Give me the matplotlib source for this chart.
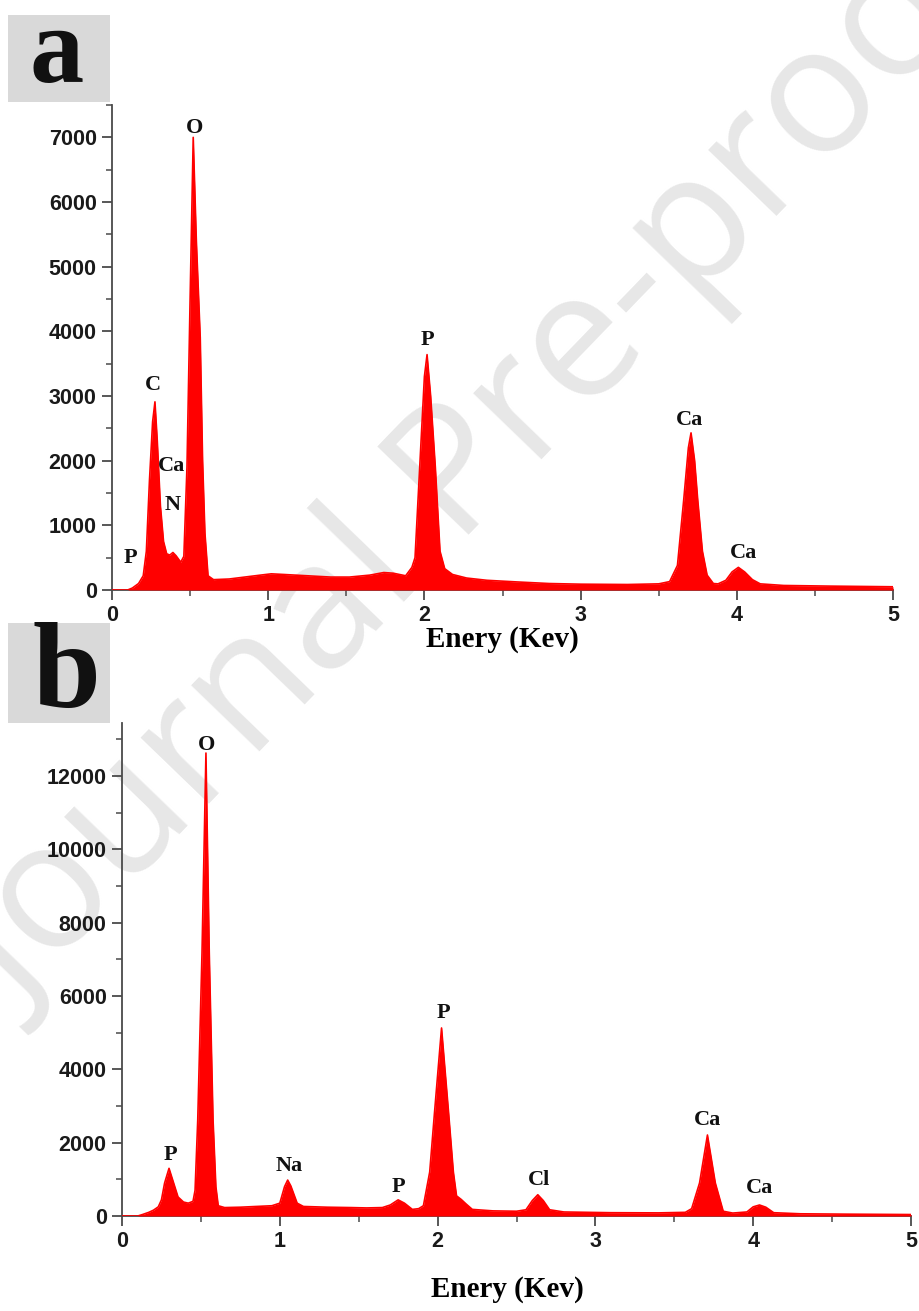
import matplotlib
matplotlib.use("Agg")
import matplotlib.pyplot as plt
from matplotlib.ticker import MultipleLocator
from matplotlib.patches import Rectangle

# ---------------- data ----------------
energy_a = [0.00, 0.10, 0.13, 0.17, 0.20, 0.22, 0.24, 0.26, 0.275, 0.29, 0.31, 0.33, 0.35, 0.37,
            0.39, 0.41, 0.44, 0.46, 0.48, 0.50, 0.52, 0.54, 0.565, 0.58, 0.595, 0.615, 0.65, 0.75,
            0.85, 0.95, 1.02, 1.10, 1.25, 1.40, 1.52, 1.65, 1.74, 1.80, 1.88, 1.92, 1.94, 1.97,
            2.00, 2.017, 2.04, 2.07, 2.10, 2.13, 2.18, 2.27, 2.40, 2.59, 2.80, 3.00, 3.30, 3.50,
            3.57, 3.62, 3.66, 3.69, 3.707, 3.73, 3.75, 3.78, 3.81, 3.85, 3.88, 3.93, 3.97, 4.01,
            4.05, 4.10, 4.15, 4.30, 4.60, 5.00]
counts_a = [0, 0, 30, 100, 220, 600, 1700, 2600, 2910, 2300, 1300, 750, 560, 540,
            580, 530, 430, 520, 1900, 4490, 7000, 5400, 3900, 2000, 880, 220, 160, 170,
            200, 230, 250, 240, 220, 200, 200, 230, 270, 260, 220, 350, 500, 1900,
            3300, 3640, 3000, 1900, 600, 330, 240, 185, 150, 125, 100, 90, 85, 95,
            130, 380, 1390, 2200, 2430, 2000, 1390, 600, 230, 100, 95, 150, 280, 350,
            280, 160, 95, 70, 60, 50]

energy_b = [0.00, 0.10, 0.13, 0.17, 0.20, 0.23, 0.25, 0.27, 0.298, 0.32, 0.355, 0.39, 0.42, 0.45,
            0.463, 0.48, 0.507, 0.532, 0.553, 0.577, 0.595, 0.61, 0.65, 0.75, 0.85, 0.95, 1.00,
            1.03, 1.05, 1.07, 1.11, 1.15, 1.30, 1.45, 1.55, 1.65, 1.70, 1.75, 1.79, 1.84, 1.88,
            1.91, 1.95, 1.98, 2.025, 2.07, 2.10, 2.12, 2.15, 2.18, 2.22, 2.35, 2.50, 2.56, 2.60,
            2.635, 2.67, 2.71, 2.80, 3.10, 3.40, 3.57, 3.61, 3.66, 3.71, 3.76, 3.81, 3.87, 3.96,
            4.00, 4.04, 4.08, 4.13, 4.30, 4.60, 5.00]
counts_b = [0, 0, 40, 100, 160, 250, 440, 900, 1300, 1000, 520, 380, 350, 400,
            700, 2620, 7180, 12630, 7180, 2620, 800, 280, 230, 240, 260, 280, 350,
            800, 980, 820, 350, 260, 240, 230, 220, 230, 300, 440, 350, 180, 200,
            280, 1200, 2800, 5130, 2800, 1200, 550, 450, 330, 180, 140, 130, 170, 420,
            580, 420, 170, 110, 90, 85, 100, 200, 900, 2210, 900, 130, 80, 110,
            250, 300, 240, 90, 60, 50, 40]

labels_a = ["O", "C", "Ca", "N", "P", "P", "Ca", "Ca"]
label_e_a = [0.53, 0.262, 0.384, 0.39, 0.115, 2.02, 3.70, 4.04]
label_c_a = [7150, 3170, 1920, 1320, 500, 3870, 2630, 570]

labels_b = ["O", "P", "Na", "P", "P", "Cl", "Ca", "Ca"]
label_e_b = [0.539, 0.304, 1.06, 1.75, 2.034, 2.64, 3.71, 4.04]
label_c_b = [12850, 1660, 1360, 790, 5540, 980, 2620, 760]

x_ticks = [0, 1, 2, 3, 4, 5]
xlabel_text = "Enery (Kev)"

# ---------------- figure ----------------
W, H = 920, 1311
fig = plt.figure(figsize=(W / 100, H / 100), dpi=100)
fig.patch.set_facecolor("white")

# watermark (behind everything)
fig.text(0.525, 0.643, "Journal Pre-proof", rotation=46, ha="center", va="center",
         fontsize=128, color="#e7e7e7", family="Open Sans", zorder=-5)

SANS = "Liberation Sans"
SERIF = "Liberation Serif"
RED = "#ff0000"


def make_panel(rect, energy, counts, ymax, ymajor, labels, le, lc, lab_xy):
    ax = fig.add_axes(rect)
    ax.set_facecolor("none")
    ax.fill_between(energy, counts, 0, color=RED, linewidth=0, zorder=3)
    ax.plot(energy, counts, color=RED, linewidth=1.2, zorder=3)
    ax.set_xlim(0, 5)
    ax.set_ylim(0, ymax)
    ax.set_xticks(x_ticks)
    ax.xaxis.set_minor_locator(MultipleLocator(0.5))
    ax.yaxis.set_major_locator(MultipleLocator(ymajor))
    ax.yaxis.set_minor_locator(MultipleLocator(ymajor / 2))
    for s in ["top", "right"]:
        ax.spines[s].set_visible(False)
    for s in ["left", "bottom"]:
        ax.spines[s].set_color("#4a4a4a")
        ax.spines[s].set_linewidth(1.3)
    ax.tick_params(which="major", direction="out", length=7, width=1.3, color="#4a4a4a",
                   labelsize=15.5, pad=4)
    ax.tick_params(which="minor", direction="out", length=4, width=1.1, color="#4a4a4a")
    for lab in ax.get_xticklabels() + ax.get_yticklabels():
        lab.set_fontfamily(SANS)
        lab.set_fontweight("bold")
        lab.set_color("#1a1a1a")
    for t, e, c in zip(labels, le, lc):
        ax.text(e, c, t, ha="center", va="center", fontsize=16, fontweight="bold",
                family=SERIF, color="#111111", zorder=5)
    ax.set_xlabel(xlabel_text, fontsize=21, fontweight="bold", family=SERIF, va="center")
    ax.xaxis.set_label_coords(*lab_xy)
    return ax


ax_a = make_panel([112 / W, 1 - 590 / H, (893 - 112) / W, (590 - 105) / H],
                  energy_a, counts_a, 7500, 1000, labels_a, label_e_a, label_c_a,
                  (0.50, -0.103))
ax_b = make_panel([122 / W, 1 - 1216 / H, (911 - 122) / W, (1216 - 723) / H],
                  energy_b, counts_b, 13450, 2000, labels_b, label_e_b, label_c_b,
                  (0.488, -0.150))

# panel letters in gray boxes
fig.patches.append(Rectangle((8 / W, 1 - 102 / H), 102 / W, 87 / H, transform=fig.transFigure,
                             facecolor="#d9d9d9", edgecolor="none", zorder=1))
fig.text(57 / W, 1 - 56 / H, "a", ha="center", va="center", fontsize=78, fontweight="bold",
         family=SERIF, color="#111111", zorder=2)
fig.patches.append(Rectangle((8 / W, 1 - 723 / H), 102 / W, 100 / H, transform=fig.transFigure,
                             facecolor="#d9d9d9", edgecolor="none", zorder=1))
fig.text(66 / W, 1 - 677 / H, "b", ha="center", va="center", fontsize=88, fontweight="bold",
         family=SERIF, color="#111111", zorder=2)

fig.savefig("out.png", dpi=100, facecolor="white")
